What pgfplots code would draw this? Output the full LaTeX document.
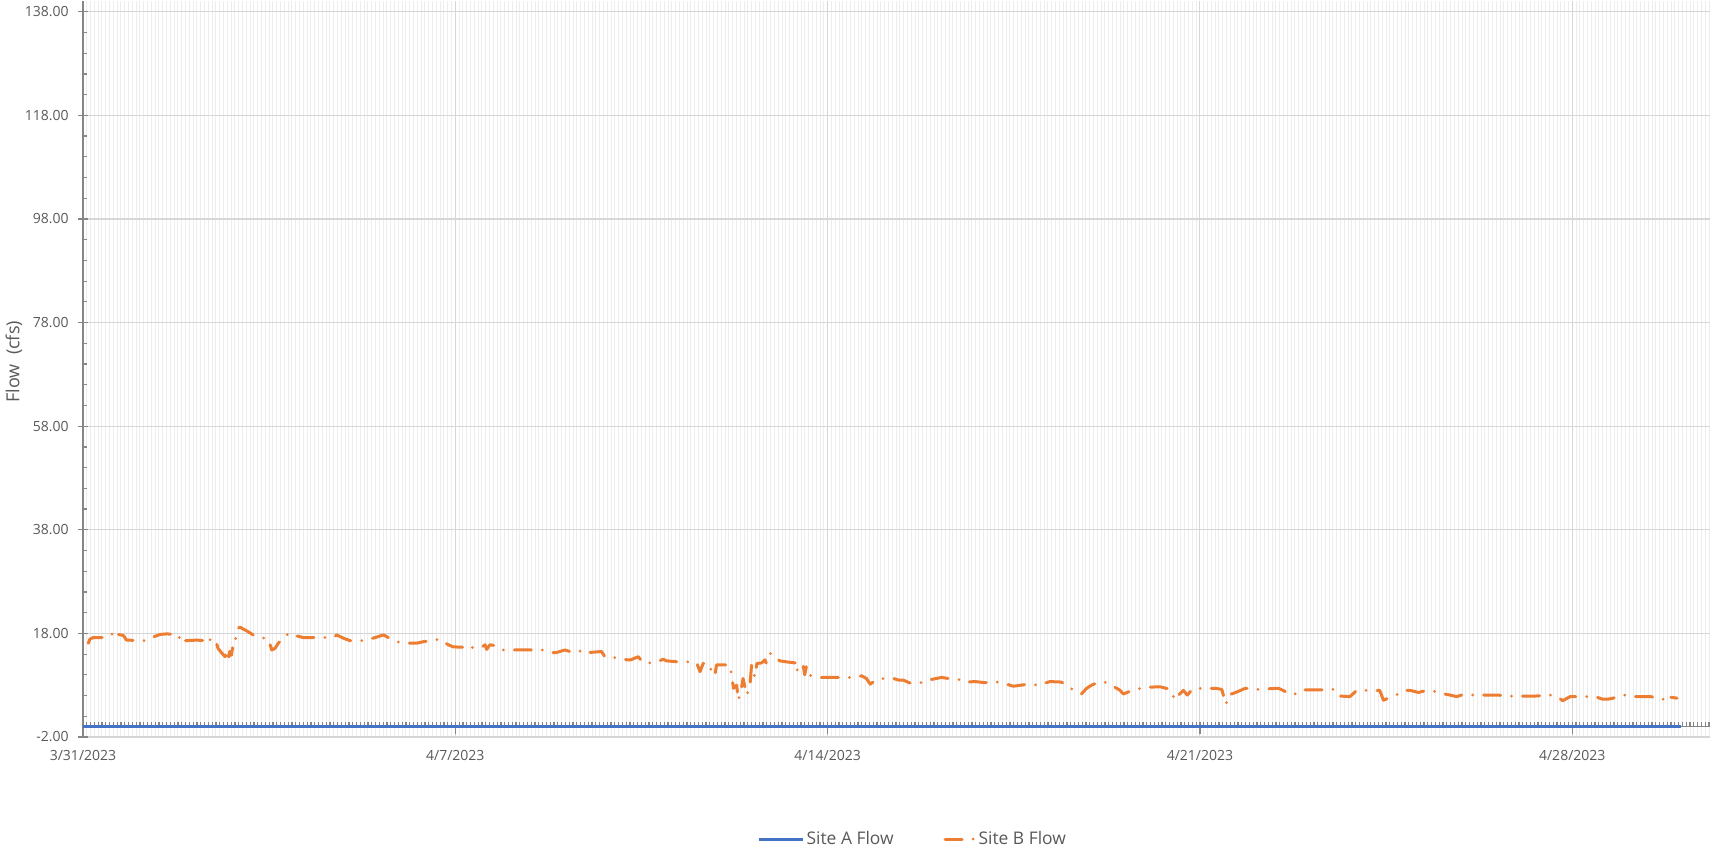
\documentclass[border=0pt]{standalone}
\usepackage{pgfplots}
\pgfplotsset{compat=1.18}
\usepackage{fontspec}
\setmainfont{Open Sans}
\definecolor{siteA}{HTML}{4472C4}
\definecolor{siteB}{HTML}{ED7D31}
\definecolor{txt}{HTML}{595959}
\definecolor{majgrid}{HTML}{D6D6D6}
\definecolor{mingrid}{HTML}{EDEDED}
\definecolor{axisgray}{HTML}{868686}
\pgfplotsset{
  leglong/.style={legend image code/.code={\draw[##1] (0pt,0pt) -- (22pt,0pt);}},
  legshort/.style={legend image code/.code={\draw[##1] (0pt,0pt) -- (15pt,0pt);}},
}
\begin{document}
\begin{tikzpicture}
\path[use as bounding box] (-41.5pt,-55.5pt) rectangle (813.5pt,368.5pt);
\begin{axis}[
  at={(0pt,0pt)}, anchor=south west,
  scale only axis, width=813.5pt, height=367.8pt,
  xmin=0, xmax=30.59, ymin=-2, ymax=140,
  axis x line=middle, axis y line=left,
  x axis line style={-, draw=axisgray, line width=0.6pt},
  y axis line style={-, draw=axisgray, line width=0.8pt},
  hide obscured x ticks=false,
  xtick={0,7,14,21,28},
  xticklabels={3/31/2023,4/7/2023,4/14/2023,4/21/2023,4/28/2023},
  minor xtick={0,0.0714285,...,30.59},
  ytick={-2,18,...,138},
  yticklabels={-2.00,18.00,38.00,58.00,78.00,98.00,118.00,138.00},
  minor ytick={2,6,...,134},
  xmajorgrids, xminorgrids, ymajorgrids,
  major grid style={majgrid, line width=0.55pt},
  minor grid style={mingrid, line width=0.5pt},
  tick align=inside,
  major tick length=5pt,
  minor tick length=2.2pt,
  tick style={axisgray, line width=0.6pt},
  every major x tick/.append style={yshift=-3.5pt},
  every major y tick/.append style={xshift=-2.5pt},
  ticklabel style={font=\fontsize{7}{8}\selectfont, text=txt},
  xticklabel style={anchor=center, yshift=-14.5pt},
  yticklabel style={anchor=east, inner sep=0pt, xshift=-7pt},
  ylabel={Flow\ \ (cfs)},
  ylabel style={at={(axis description cs:-0.0424,0.51)}, anchor=center, font=\fontsize{9}{10}\selectfont, text=txt},
  legend columns=2,
  legend style={draw=none, fill=none, font=\fontsize{8.7}{10}\selectfont, text=txt,
    at={(axis description cs:0.51,-0.1387)}, anchor=center,
    nodes={inner xsep=1pt},
    /tikz/every even column/.append style={column sep=24pt}},
]
\addplot[siteA, line width=1.5pt, leglong]
  coordinates {(0,0) (30.05,0)};
\addlegendentry{Site A Flow}
\addplot[siteB, line width=1.5pt, line cap=round, line join=round,
  dash pattern=on 8.5pt off 5.5pt on 0pt off 5.5pt, legshort]
  coordinates {
(0.10,16.1) (0.13,16.9) (0.19,17.2) (0.38,17.2) (0.45,17.8) (0.60,17.9) (0.62,17.2) (0.66,17.8)
(0.76,17.6) (0.82,16.7) (1.20,16.6) (1.29,17.2) (1.45,17.8) (1.57,17.9) (1.79,17.8) (1.85,16.1)
(1.92,16.6) (2.14,16.7) (2.32,16.6) (2.36,16.1) (2.40,17.0) (2.45,16.1) (2.51,16.1) (2.54,15.1)
(2.61,14.2) (2.67,13.5) (2.70,14.8) (2.73,12.5) (2.76,14.5) (2.79,13.8) (2.83,16.4) (2.86,16.4)
(2.89,18.3) (2.92,19.0) (2.95,19.2) (3.11,18.3) (3.20,17.7) (3.30,17.2) (3.48,17.0) (3.55,14.8)
(3.61,15.1) (3.67,16.1) (3.77,17.2) (3.83,17.8) (3.92,17.4) (3.95,17.7) (4.14,17.2) (4.71,17.2)
(4.77,17.7) (4.89,17.1) (5.02,16.6) (5.27,16.6) (5.46,17.1) (5.65,17.7) (5.74,17.2) (5.86,16.6)
(5.96,16.2) (6.27,16.1) (6.40,16.4) (6.59,16.7) (6.71,16.9) (6.77,16.4) (6.87,15.8) (6.96,15.4)
(7.21,15.3) (7.27,14.9) (7.34,15.4) (7.49,15.3) (7.56,15.8) (7.59,14.9) (7.65,15.8) (7.78,15.6)
(7.90,14.8) (8.44,14.8) (8.66,14.8) (8.84,14.3) (8.90,14.3) (9.06,14.8) (9.22,14.3) (9.44,14.8)
(9.50,14.3) (9.75,14.5) (9.81,13.5) (9.91,13.2) (10.06,13.4) (10.22,12.9) (10.30,12.9) (10.44,13.5)
(10.53,12.3) (10.72,12.3) (10.91,13.0) (10.97,12.7) (11.19,12.5) (11.41,12.5) (11.54,12.3) (11.60,10.6)
(11.66,12.2) (11.76,12.2) (11.79,11.3) (11.88,9.8) (11.91,11.9) (12.16,11.9) (12.20,9.6) (12.23,7.4)
(12.29,8.0) (12.32,5.1) (12.38,7.4) (12.41,9.3) (12.48,6.1) (12.54,8.0) (12.57,11.9) (12.63,9.6)
(12.67,12.2) (12.76,12.3) (12.82,12.9) (12.85,12.2) (12.93,14.2) (13.01,13.5) (13.10,12.7) (13.23,12.5)
(13.39,12.3) (13.42,10.6) (13.45,11.9) (13.54,11.9) (13.57,10.0) (13.60,11.6) (13.64,10.0) (13.79,9.5)
(14.23,9.5) (14.42,9.5) (14.64,9.8) (14.73,9.3) (14.80,8.2) (14.92,9.1) (15.08,9.3) (15.24,9.3)
(15.33,9.0) (15.42,9.0) (15.55,8.4) (15.64,8.5) (15.83,8.5) (15.95,9.1) (16.14,9.5) (16.27,9.3)
(16.55,9.0) (16.61,8.6) (16.77,8.7) (16.95,8.5) (17.24,8.6) (17.49,7.8) (17.77,8.2) (17.96,8.0)
(18.18,8.7) (18.40,8.6) (18.52,7.6) (18.65,7.0) (18.77,6.3) (18.87,7.4) (18.96,8.0) (19.12,8.7)
(19.25,8.5) (19.37,7.8) (19.50,7.0) (19.56,6.3) (19.68,6.8) (19.78,7.2) (20.00,7.6) (20.25,7.7)
(20.44,7.2) (20.53,5.1) (20.60,6.1) (20.69,7.0) (20.76,6.1) (20.88,7.4) (21.28,7.4) (21.41,7.2)
(21.49,4.3) (21.53,6.1) (21.62,6.4) (21.72,6.8) (21.85,7.4) (22.07,7.2) (22.48,7.4) (22.60,6.8)
(22.76,6.1) (22.91,7.1) (23.38,7.1) (23.54,7.2) (23.63,5.9) (23.82,5.8) (23.95,7.0) (24.20,7.0)
(24.38,7.0) (24.45,5.1) (24.54,5.5) (24.63,5.8) (24.73,6.3) (24.85,7.0) (24.95,7.0) (25.11,6.6)
(25.26,7.0) (25.42,6.8) (25.55,6.4) (25.70,6.1) (25.83,5.8) (25.92,6.1) (26.61,6.1) (26.77,5.9)
(27.30,5.9) (27.61,6.1) (27.71,5.9) (27.82,5.0) (27.96,5.8) (28.43,5.8) (28.57,5.3) (28.67,5.3)
(28.77,5.5) (28.84,5.8) (28.97,6.1) (29.15,5.8) (29.46,5.8) (29.68,5.5) (29.78,4.8) (29.84,5.7)
(29.97,5.5)
  };
\addlegendentry{Site B Flow}
\end{axis}
\end{tikzpicture}
\end{document}
